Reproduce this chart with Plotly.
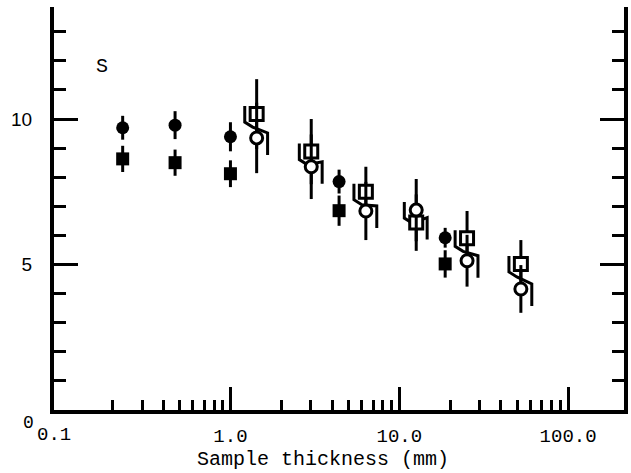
import numpy as np
import plotly.graph_objects as go

# ---------------- data ----------------
# filled circles
fc_x = [0.23, 0.47, 1.0, 4.4, 18.7]
fc_y = [9.70, 9.79, 9.39, 7.85, 5.92]
fc_e = [0.41, 0.48, 0.50, 0.41, 0.34]
# filled squares
fs_x = [0.23, 0.47, 1.0, 4.4, 18.7]
fs_y = [8.63, 8.50, 8.12, 6.85, 5.02]
fs_e = [0.45, 0.45, 0.46, 0.52, 0.47]
# open squares
os_x = [1.43, 3.01, 6.34, 12.6, 25.2, 52.5]
os_y = [10.17, 8.88, 7.50, 6.44, 5.90, 5.02]
os_e = [1.20, 1.12, 0.86, 0.97, 0.94, 0.82]
# open circles
oc_x = [1.43, 3.01, 6.34, 12.6, 25.2, 52.5]
oc_y = [9.35, 8.36, 6.84, 6.87, 5.13, 4.16]
oc_e = [1.21, 1.11, 1.00, 1.07, 0.89, 0.82]

x_major = [1, 10, 100]
x_major_text = ["1.0", "10.0", "100.0"]
x_minor = [0.2, 0.3, 0.4, 0.5, 0.6, 0.7, 0.8, 0.9,
           2, 3, 4, 5, 6, 7, 8, 9,
           20, 30, 40, 50, 60, 70, 80, 90]
y_major = [5, 10]
y_major_text = ["5", "10"]
y_minor = list(range(1, 14))

# ---------------- layout geometry ----------------
W, H = 631, 473
ML, MR, MT, MB = 54, 3, 7, 63
XR = [-1.045, 2.331]
YR = [0, 13.85]
pw = W - ML - MR
ph = H - MT - MB
px_dec = pw / (XR[1] - XR[0])
px_y = ph / (YR[1] - YR[0])

def shift(x, y, dx, dy):
    """shift a data point by pixel offsets (dx right, dy down)"""
    return 10 ** (np.log10(x) + dx / px_dec), y - dy / px_y

fig = go.Figure()

# S-shaped connectors between paired open symbols (behind the markers)
cx, cy = [], []
for sx, sy, ox, oy in zip(os_x, os_y, oc_x, oc_y):
    if sy >= oy:
        ux, uy, lx, ly = sx, sy, ox, oy
    else:
        ux, uy, lx, ly = ox, oy, sx, sy
    pts = [shift(ux, uy, -12, -8), shift(ux, uy, -12, 8),
           shift(ux, uy, -4, 13), shift(lx, ly, 11, -5),
           shift(lx, ly, 11, 17)]
    cx += [p[0] for p in pts] + [None]
    cy += [p[1] for p in pts] + [None]
fig.add_trace(go.Scatter(x=cx, y=cy, mode="lines",
                         line=dict(color="black", width=3),
                         hoverinfo="skip", showlegend=False))

def err(e):
    return dict(type="data", array=e, visible=True, color="black",
                thickness=3, width=0)

fig.add_trace(go.Scatter(x=fc_x, y=fc_y, mode="markers", error_y=err(fc_e),
                         marker=dict(symbol="circle", size=13, color="black"),
                         showlegend=False))
fig.add_trace(go.Scatter(x=fs_x, y=fs_y, mode="markers", error_y=err(fs_e),
                         marker=dict(symbol="square", size=13, color="black"),
                         showlegend=False))
fig.add_trace(go.Scatter(x=os_x, y=os_y, mode="markers", error_y=err(os_e),
                         marker=dict(symbol="square", size=13, color="white",
                                     line=dict(color="black", width=3)),
                         showlegend=False))
fig.add_trace(go.Scatter(x=oc_x, y=oc_y, mode="markers", error_y=err(oc_e),
                         marker=dict(symbol="circle", size=12, color="white",
                                     line=dict(color="black", width=3)),
                         showlegend=False))

mono = "Liberation Mono"
fig.update_layout(
    width=W, height=H,
    margin=dict(l=ML, r=MR, t=MT, b=MB),
    paper_bgcolor="white", plot_bgcolor="white",
    xaxis=dict(type="log", range=XR, showgrid=False, zeroline=False,
               showline=True, linecolor="black", linewidth=4, mirror=False,
               tickmode="array", tickvals=x_major, ticktext=x_major_text,
               ticks="inside", ticklen=23, tickwidth=3, tickcolor="black",
               ticklabelstandoff=5,
               tickfont=dict(family=mono, size=19, color="black"),
               minor=dict(tickmode="array", tickvals=x_minor, ticks="inside",
                          ticklen=10, tickwidth=3, tickcolor="black",
                          showgrid=False)),
    yaxis=dict(range=YR, showgrid=False, zeroline=False,
               showline=True, linecolor="black", linewidth=4, mirror="ticks",
               tickmode="array", tickvals=y_major, ticktext=y_major_text,
               ticks="inside", ticklen=24, tickwidth=3, tickcolor="black",
               ticklabelstandoff=14,
               tickfont=dict(family="Liberation Sans", size=19, color="black"),
               minor=dict(tickmode="array", tickvals=y_minor, ticks="inside",
                          ticklen=12, tickwidth=3, tickcolor="black",
                          showgrid=False)),
    annotations=[
        dict(text="Sample thickness (mm)", xref="paper", yref="paper",
             x=(324.5 - ML) / pw, y=0, yshift=-49, showarrow=False,
             xanchor="center", yanchor="middle",
             font=dict(family=mono, size=20, color="black")),
        dict(text="0.1", xref="paper", yref="paper", x=0, y=0, yshift=-24.5,
             showarrow=False, xanchor="center", yanchor="middle",
             font=dict(family=mono, size=19, color="black")),
        dict(text="0", xref="paper", yref="paper", x=(28 - ML) / pw, y=0,
             yshift=-13, showarrow=False, xanchor="center", yanchor="middle",
             font=dict(family=mono, size=18, color="black")),
        dict(text="S", xref="paper", yref="paper", x=(102 - ML) / pw,
             y=(H - MB - 67) / ph, showarrow=False, xanchor="center",
             yanchor="middle",
             font=dict(family=mono, size=20, color="black")),
    ],
)

fig.write_html("out.html")
